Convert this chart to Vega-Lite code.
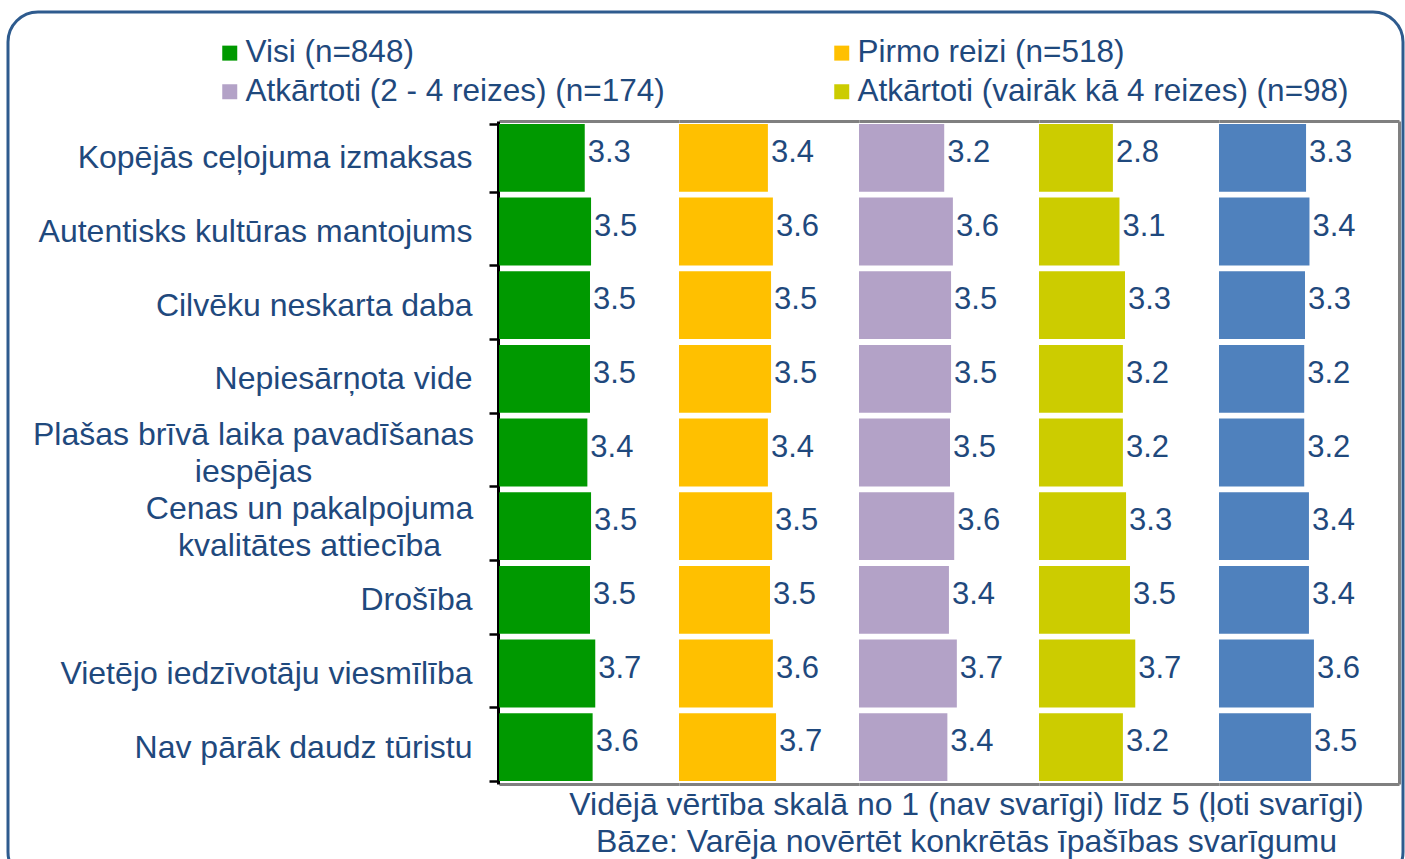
{
  "$schema": "https://vega.github.io/schema/vega-lite/v6.json",
  "width": 1395,
  "height": 870,
  "autosize": {"type": "none"},
  "padding": {"left": 8, "top": 12, "right": 2, "bottom": -23},
  "config": {
    "font": "Liberation Sans",
    "view": {"stroke": "#2E5B8E", "strokeWidth": 3, "cornerRadius": 30}
  },
  "data": {
    "values": [
      {"c": "Kopējās ceļojuma izmaksas", "s": "Visi (n=848)", "v": 3.26},
      {"c": "Autentisks kultūras mantojums", "s": "Visi (n=848)", "v": 3.50},
      {"c": "Cilvēku neskarta daba", "s": "Visi (n=848)", "v": 3.46},
      {"c": "Nepiesārņota vide", "s": "Visi (n=848)", "v": 3.46},
      {"c": "Plašas brīvā laika pavadīšanas iespējas", "s": "Visi (n=848)", "v": 3.36},
      {"c": "Cenas un pakalpojuma kvalitātes attiecība", "s": "Visi (n=848)", "v": 3.50},
      {"c": "Drošība", "s": "Visi (n=848)", "v": 3.46},
      {"c": "Vietējo iedzīvotāju viesmīlība", "s": "Visi (n=848)", "v": 3.66},
      {"c": "Nav pārāk daudz tūristu", "s": "Visi (n=848)", "v": 3.56},
      {"c": "Kopējās ceļojuma izmaksas", "s": "Pirmo reizi (n=518)", "v": 3.38},
      {"c": "Autentisks kultūras mantojums", "s": "Pirmo reizi (n=518)", "v": 3.57},
      {"c": "Cilvēku neskarta daba", "s": "Pirmo reizi (n=518)", "v": 3.50},
      {"c": "Nepiesārņota vide", "s": "Pirmo reizi (n=518)", "v": 3.50},
      {"c": "Plašas brīvā laika pavadīšanas iespējas", "s": "Pirmo reizi (n=518)", "v": 3.38},
      {"c": "Cenas un pakalpojuma kvalitātes attiecība", "s": "Pirmo reizi (n=518)", "v": 3.54},
      {"c": "Drošība", "s": "Pirmo reizi (n=518)", "v": 3.46},
      {"c": "Vietējo iedzīvotāju viesmīlība", "s": "Pirmo reizi (n=518)", "v": 3.57},
      {"c": "Nav pārāk daudz tūristu", "s": "Pirmo reizi (n=518)", "v": 3.69},
      {"c": "Kopējās ceļojuma izmaksas", "s": "Atkārtoti (2 - 4 reizes) (n=174)", "v": 3.24},
      {"c": "Autentisks kultūras mantojums", "s": "Atkārtoti (2 - 4 reizes) (n=174)", "v": 3.57},
      {"c": "Cilvēku neskarta daba", "s": "Atkārtoti (2 - 4 reizes) (n=174)", "v": 3.50},
      {"c": "Nepiesārņota vide", "s": "Atkārtoti (2 - 4 reizes) (n=174)", "v": 3.50},
      {"c": "Plašas brīvā laika pavadīšanas iespējas", "s": "Atkārtoti (2 - 4 reizes) (n=174)", "v": 3.46},
      {"c": "Cenas un pakalpojuma kvalitātes attiecība", "s": "Atkārtoti (2 - 4 reizes) (n=174)", "v": 3.62},
      {"c": "Drošība", "s": "Atkārtoti (2 - 4 reizes) (n=174)", "v": 3.42},
      {"c": "Vietējo iedzīvotāju viesmīlība", "s": "Atkārtoti (2 - 4 reizes) (n=174)", "v": 3.72},
      {"c": "Nav pārāk daudz tūristu", "s": "Atkārtoti (2 - 4 reizes) (n=174)", "v": 3.36},
      {"c": "Kopējās ceļojuma izmaksas", "s": "Atkārtoti (vairāk kā 4 reizes) (n=98)", "v": 2.81},
      {"c": "Autentisks kultūras mantojums", "s": "Atkārtoti (vairāk kā 4 reizes) (n=98)", "v": 3.06},
      {"c": "Cilvēku neskarta daba", "s": "Atkārtoti (vairāk kā 4 reizes) (n=98)", "v": 3.27},
      {"c": "Nepiesārņota vide", "s": "Atkārtoti (vairāk kā 4 reizes) (n=98)", "v": 3.19},
      {"c": "Plašas brīvā laika pavadīšanas iespējas", "s": "Atkārtoti (vairāk kā 4 reizes) (n=98)", "v": 3.19},
      {"c": "Cenas un pakalpojuma kvalitātes attiecība", "s": "Atkārtoti (vairāk kā 4 reizes) (n=98)", "v": 3.31},
      {"c": "Drošība", "s": "Atkārtoti (vairāk kā 4 reizes) (n=98)", "v": 3.46},
      {"c": "Vietējo iedzīvotāju viesmīlība", "s": "Atkārtoti (vairāk kā 4 reizes) (n=98)", "v": 3.66},
      {"c": "Nav pārāk daudz tūristu", "s": "Atkārtoti (vairāk kā 4 reizes) (n=98)", "v": 3.19},
      {"c": "Kopējās ceļojuma izmaksas", "s": "Sērija 5", "v": 3.31},
      {"c": "Autentisks kultūras mantojums", "s": "Sērija 5", "v": 3.44},
      {"c": "Cilvēku neskarta daba", "s": "Sērija 5", "v": 3.27},
      {"c": "Nepiesārņota vide", "s": "Sērija 5", "v": 3.24},
      {"c": "Plašas brīvā laika pavadīšanas iespējas", "s": "Sērija 5", "v": 3.24},
      {"c": "Cenas un pakalpojuma kvalitātes attiecība", "s": "Sērija 5", "v": 3.42},
      {"c": "Drošība", "s": "Sērija 5", "v": 3.42},
      {"c": "Vietējo iedzīvotāju viesmīlība", "s": "Sērija 5", "v": 3.61},
      {"c": "Nav pārāk daudz tūristu", "s": "Sērija 5", "v": 3.50}
    ]
  },
  "encoding": {
    "y": {"field": "c", "type": "nominal", "sort": null,
      "scale": {"domain": ["Kopējās ceļojuma izmaksas", "Autentisks kultūras mantojums", "Cilvēku neskarta daba", "Nepiesārņota vide", "Plašas brīvā laika pavadīšanas iespējas", "Cenas un pakalpojuma kvalitātes attiecība", "Drošība", "Vietējo iedzīvotāju viesmīlība", "Nav pārāk daudz tūristu"], "range": [109, 772], "paddingInner": 0.08, "paddingOuter": 0.04},
      "axis": {"orient": "left", "offset": -490, "title": null, "domainColor": "#000000", "domainWidth": 3, "tickColor": "#000000", "tickWidth": 2.5, "tickSize": 9, "tickBand": "extent", "labelFontSize": 32, "labelColor": "#1F497D", "labelLimit": 700, "labelLineHeight": 37, "grid": false,
        "labelOffset": {"condition": {"test": "datum.value == 'Plašas brīvā laika pavadīšanas iespējas' || datum.value == 'Cenas un pakalpojuma kvalitātes attiecība'", "value": -18}, "value": 0},
        "labelAlign": {"condition": {"test": "datum.value == 'Plašas brīvā laika pavadīšanas iespējas' || datum.value == 'Cenas un pakalpojuma kvalitātes attiecība'", "value": "center"}, "value": "right"},
        "labelPadding": {"condition": [{"test": "datum.value == 'Plašas brīvā laika pavadīšanas iespējas'", "value": 236}, {"test": "datum.value == 'Cenas un pakalpojuma kvalitātes attiecība'", "value": 180}], "value": 17},
        "labelExpr": "datum.label == 'Plašas brīvā laika pavadīšanas iespējas' ? ['Plašas brīvā laika pavadīšanas', 'iespējas'] : datum.label == 'Cenas un pakalpojuma kvalitātes attiecība' ? ['Cenas un pakalpojuma', 'kvalitātes attiecība'] : datum.label"}},
    "color": {"field": "s", "type": "nominal",
      "scale": {"domain": ["Visi (n=848)", "Pirmo reizi (n=518)", "Atkārtoti (2 - 4 reizes) (n=174)", "Atkārtoti (vairāk kā 4 reizes) (n=98)", "Sērija 5"], "range": ["#009900", "#FFC000", "#B3A2C7", "#CCCC00", "#4F81BD"]},
      "legend": {"orient": "none", "legendX": 206, "legendY": 25, "columns": 2, "title": null, "values": ["Visi (n=848)", "Atkārtoti (2 - 4 reizes) (n=174)", "Pirmo reizi (n=518)", "Atkārtoti (vairāk kā 4 reizes) (n=98)"], "symbolType": "square", "symbolSize": 225, "symbolStrokeWidth": 0, "labelFontSize": 31.5, "labelColor": "#1F497D", "labelLimit": 700, "columnPadding": 161, "rowPadding": 6, "labelOffset": 0}}
  },
  "layer": [
    {
      "transform": [{"filter": "datum.s == 'Visi (n=848)'"}],
      "layer": [
        {
          "mark": {"type": "bar"},
          "encoding": {
            "x": {"field": "v", "type": "quantitative", "scale": {"domain": [0, 6.844], "range": [491, 671], "nice": false, "zero": true},
              "axis": {"orient": "bottom", "offset": -98, "domainColor": "#808080", "domainWidth": 3, "labels": false, "ticks": false, "grid": false, "title": null}}
          }
        },
        {
          "mark": {"type": "text", "align": "left", "baseline": "middle", "dx": 3, "dy": -5, "fontSize": 31, "color": "#1F497D"},
          "encoding": {
            "color": {"value": "#1F497D"},
            "text": {"field": "v", "type": "quantitative", "format": ".1f"},
            "x": {"field": "v", "type": "quantitative", "scale": {"domain": [0, 6.844], "range": [491, 671], "nice": false, "zero": true},
              "axis": {"orient": "top", "offset": -109, "domainColor": "#808080", "domainWidth": 3, "labels": false, "ticks": false, "grid": false, "title": null}}
          }
        }
      ],
      "resolve": {"axis": {"x": "independent"}}
    },
    {
      "transform": [{"filter": "datum.s == 'Pirmo reizi (n=518)'"}],
      "layer": [
        {
          "mark": {"type": "bar"},
          "encoding": {
            "x": {"field": "v", "type": "quantitative", "scale": {"domain": [0, 6.844], "range": [671, 851], "nice": false, "zero": true},
              "axis": {"orient": "bottom", "offset": -98, "domainColor": "#808080", "domainWidth": 3, "labels": false, "ticks": false, "grid": false, "title": null}}
          }
        },
        {
          "mark": {"type": "text", "align": "left", "baseline": "middle", "dx": 3, "dy": -5, "fontSize": 31, "color": "#1F497D"},
          "encoding": {
            "color": {"value": "#1F497D"},
            "text": {"field": "v", "type": "quantitative", "format": ".1f"},
            "x": {"field": "v", "type": "quantitative", "scale": {"domain": [0, 6.844], "range": [671, 851], "nice": false, "zero": true},
              "axis": {"orient": "top", "offset": -109, "domainColor": "#808080", "domainWidth": 3, "labels": false, "ticks": false, "grid": false, "title": null}}
          }
        }
      ],
      "resolve": {"axis": {"x": "independent"}}
    },
    {
      "transform": [{"filter": "datum.s == 'Atkārtoti (2 - 4 reizes) (n=174)'"}],
      "layer": [
        {
          "mark": {"type": "bar"},
          "encoding": {
            "x": {"field": "v", "type": "quantitative", "scale": {"domain": [0, 6.844], "range": [851, 1031], "nice": false, "zero": true},
              "axis": {"orient": "bottom", "offset": -98, "domainColor": "#808080", "domainWidth": 3, "labels": false, "ticks": false, "grid": false,
                "title": ["Vidējā vērtība skalā no 1 (nav svarīgi) līdz 5 (ļoti svarīgi)", "Bāze: Varēja novērtēt konkrētās īpašības svarīgumu"],
                "titleX": 958, "titleAlign": "center", "titleFontSize": 32, "titleFontWeight": "normal", "titleColor": "#1F497D", "titleLineHeight": 37, "titlePadding": 5, "titleLimit": 1000}}
          }
        },
        {
          "mark": {"type": "text", "align": "left", "baseline": "middle", "dx": 3, "dy": -5, "fontSize": 31, "color": "#1F497D"},
          "encoding": {
            "color": {"value": "#1F497D"},
            "text": {"field": "v", "type": "quantitative", "format": ".1f"},
            "x": {"field": "v", "type": "quantitative", "scale": {"domain": [0, 6.844], "range": [851, 1031], "nice": false, "zero": true},
              "axis": {"orient": "top", "offset": -109, "domainColor": "#808080", "domainWidth": 3, "labels": false, "ticks": false, "grid": false, "title": null}}
          }
        }
      ],
      "resolve": {"axis": {"x": "independent"}}
    },
    {
      "transform": [{"filter": "datum.s == 'Atkārtoti (vairāk kā 4 reizes) (n=98)'"}],
      "layer": [
        {
          "mark": {"type": "bar"},
          "encoding": {
            "x": {"field": "v", "type": "quantitative", "scale": {"domain": [0, 6.844], "range": [1031, 1211], "nice": false, "zero": true},
              "axis": {"orient": "bottom", "offset": -98, "domainColor": "#808080", "domainWidth": 3, "labels": false, "ticks": false, "grid": false, "title": null}}
          }
        },
        {
          "mark": {"type": "text", "align": "left", "baseline": "middle", "dx": 3, "dy": -5, "fontSize": 31, "color": "#1F497D"},
          "encoding": {
            "color": {"value": "#1F497D"},
            "text": {"field": "v", "type": "quantitative", "format": ".1f"},
            "x": {"field": "v", "type": "quantitative", "scale": {"domain": [0, 6.844], "range": [1031, 1211], "nice": false, "zero": true},
              "axis": {"orient": "top", "offset": -109, "domainColor": "#808080", "domainWidth": 3, "labels": false, "ticks": false, "grid": false, "title": null}}
          }
        }
      ],
      "resolve": {"axis": {"x": "independent"}}
    },
    {
      "transform": [{"filter": "datum.s == 'Sērija 5'"}],
      "layer": [
        {
          "mark": {"type": "bar"},
          "encoding": {
            "x": {"field": "v", "type": "quantitative", "scale": {"domain": [0, 6.844], "range": [1211, 1391], "nice": false, "zero": true},
              "axis": {"orient": "bottom", "offset": -98, "domainColor": "#808080", "domainWidth": 3, "labels": false, "ticks": true, "values": [6.844], "tickSize": -663, "tickColor": "#808080", "tickWidth": 3, "grid": false, "title": null}}
          }
        },
        {
          "mark": {"type": "text", "align": "left", "baseline": "middle", "dx": 3, "dy": -5, "fontSize": 31, "color": "#1F497D"},
          "encoding": {
            "color": {"value": "#1F497D"},
            "text": {"field": "v", "type": "quantitative", "format": ".1f"},
            "x": {"field": "v", "type": "quantitative", "scale": {"domain": [0, 6.844], "range": [1211, 1391], "nice": false, "zero": true},
              "axis": {"orient": "top", "offset": -109, "domainColor": "#808080", "domainWidth": 3, "labels": false, "ticks": false, "grid": false, "title": null}}
          }
        }
      ],
      "resolve": {"axis": {"x": "independent"}}
    }
  ],
  "resolve": {"scale": {"x": "independent"}}
}
